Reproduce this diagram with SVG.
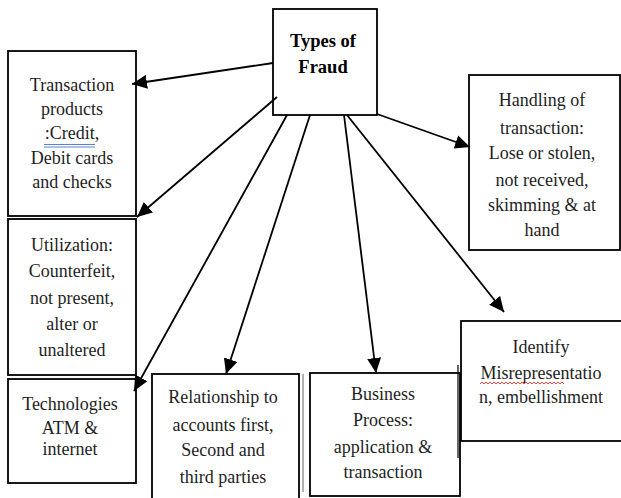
<svg xmlns="http://www.w3.org/2000/svg" width="621" height="498" viewBox="0 0 621 498">
<style>
.box{fill:#fff;stroke:#000;stroke-width:1.8}
.t{font-family:"Liberation Serif","Times New Roman",serif;font-size:18px;fill:#1e1e1e;text-anchor:middle}
.b{font-weight:bold;fill:#000;font-size:18.5px}
.c line{stroke:#000;stroke-width:1.8}
</style>
<defs>
<marker id="ah" markerUnits="userSpaceOnUse" markerWidth="16" markerHeight="14" refX="15" refY="7" orient="auto">
<path d="M0,0 L15,7 L0,14 Z" fill="#000"/>
</marker>
</defs>
<rect width="621" height="498" fill="#fff"/>
<g id="center">
<rect class="box" x="273" y="9" width="104" height="106"/>
<text class="t b" x="323" y="47">Types of</text>
<text class="t b" x="323" y="73">Fraud</text>
</g>
<g id="transaction-products">
<rect class="box" x="8" y="51" width="128" height="165"/>
<text class="t" x="72" y="91">Transaction</text>
<text class="t" x="72" y="115">products</text>
<text class="t" x="72" y="139">:Credit,</text>
<path d="M44,144.5 H95 M44,147 H95" stroke="#5b7fd6" stroke-width="1" fill="none"/>
<text class="t" x="72" y="164">Debit cards</text>
<text class="t" x="72" y="188">and checks</text>
</g>
<g id="utilization">
<rect class="box" x="8" y="219" width="128" height="156"/>
<text class="t" x="72" y="251">Utilization:</text>
<text class="t" x="72" y="277">Counterfeit,</text>
<text class="t" x="72" y="304">not present,</text>
<text class="t" x="72" y="330">alter or</text>
<text class="t" x="72" y="356">unaltered</text>
</g>
<g id="technologies">
<rect class="box" x="8" y="379" width="128" height="104"/>
<text class="t" x="70" y="410">Technologies</text>
<text class="t" x="70" y="434">ATM &amp;</text>
<text class="t" x="70" y="455">internet</text>
</g>
<g id="relationship">
<rect class="box" x="152" y="374" width="147" height="126"/>
<text class="t" x="223" y="403">Relationship to</text>
<text class="t" x="223" y="431">accounts first,</text>
<text class="t" x="223" y="456">Second and</text>
<text class="t" x="223" y="483">third parties</text>
</g>
<g id="business-process">
<line x1="303" y1="374" x2="303" y2="492" stroke="#666" stroke-width="1"/>
<rect class="box" x="310" y="373" width="150" height="123"/>
<text class="t" x="383" y="400">Business</text>
<text class="t" x="383" y="426">Process:</text>
<text class="t" x="383" y="453">application &amp;</text>
<text class="t" x="383" y="478">transaction</text>
</g>
<g id="identify">
<rect class="box" x="461" y="321" width="162" height="120"/>
<line x1="458" y1="365" x2="458" y2="458" stroke="#000" stroke-width="1.2"/>
<text class="t" x="541" y="353">Identify</text>
<text class="t" x="541" y="379">Misrepresentatio</text>
<path d="M480,384 l2,-2 l2,2 l2,-2 l2,2 l2,-2 l2,2 l2,-2 l2,2 l2,-2 l2,2 l2,-2 l2,2 l2,-2 l2,2 l2,-2 l2,2 l2,-2 l2,2 l2,-2 l2,2 l2,-2 l2,2 l2,-2 l2,2 l2,-2 l2,2 l2,-2 l2,2 l2,-2 l2,2 l2,-2 l2,2 l2,-2 l2,2 l2,-2 l2,2 l2,-2 l2,2 l2,-2 l2,2 l2,-2 l2,2" stroke="#e03030" stroke-width="0.9" fill="none"/>
<text class="t" x="541" y="403">n, embellishment</text>
</g>
<g id="handling">
<rect class="box" x="469" y="75" width="151" height="175"/>
<text class="t" x="542" y="106">Handling of</text>
<text class="t" x="542" y="134">transaction:</text>
<text class="t" x="542" y="159">Lose or stolen,</text>
<text class="t" x="542" y="186">not received,</text>
<text class="t" x="542" y="211">skimming &amp; at</text>
<text class="t" x="542" y="236">hand</text>
</g>
<g id="connectors" class="c">
<line x1="273" y1="63" x2="132" y2="84" marker-end="url(#ah)"/>
<line x1="277" y1="97" x2="137" y2="217" marker-end="url(#ah)"/>
<line x1="287" y1="115" x2="134" y2="391" marker-end="url(#ah)"/>
<line x1="310" y1="115" x2="226" y2="374" marker-end="url(#ah)"/>
<line x1="344" y1="115" x2="376" y2="373" marker-end="url(#ah)"/>
<line x1="347" y1="115" x2="504" y2="312" marker-end="url(#ah)"/>
<line x1="377" y1="114" x2="470" y2="147" marker-end="url(#ah)"/>
</g>
</svg>
